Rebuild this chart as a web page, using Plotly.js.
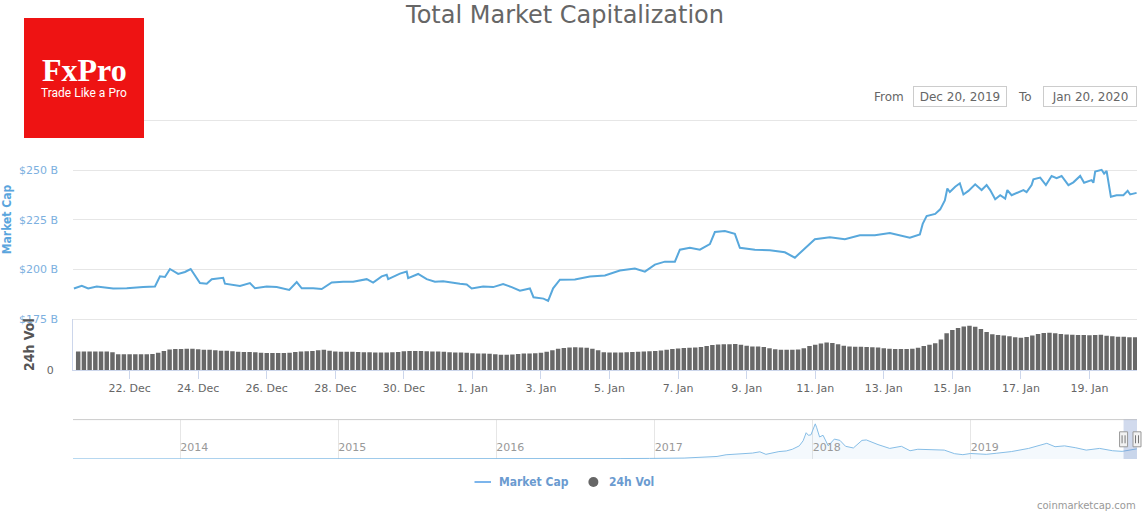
<!DOCTYPE html>
<html>
<head>
<meta charset="utf-8">
<script src="https://cdn.plot.ly/plotly-3.0.1.min.js"></script>
<style>html,body{margin:0;padding:0;background:#fff;}#chart{width:1148px;height:516px;}</style>
</head>
<body>
<div id="chart"></div>
<script>
// ---- Market cap ($B) ----
const capTimes = [
'2019-12-20 09:00','2019-12-20 14:30','2019-12-20 19:00','2019-12-21 01:00','2019-12-21 12:30','2019-12-21 22:00',
'2019-12-22 09:30','2019-12-22 17:45','2019-12-22 21:15','2019-12-23 00:45','2019-12-23 04:15','2019-12-23 10:00',
'2019-12-23 14:45','2019-12-23 18:45','2019-12-24 01:15','2019-12-24 06:00','2019-12-24 09:30','2019-12-24 17:30',
'2019-12-24 18:45','2019-12-25 05:15','2019-12-25 12:15','2019-12-25 15:45','2019-12-26 00:00','2019-12-26 07:00',
'2019-12-26 15:45','2019-12-26 21:00','2019-12-27 00:30','2019-12-27 08:30','2019-12-27 14:30','2019-12-27 18:00',
'2019-12-27 21:30','2019-12-28 05:30','2019-12-28 12:30','2019-12-28 22:00','2019-12-29 02:30','2019-12-29 08:30',
'2019-12-29 12:00','2019-12-29 13:00','2019-12-29 21:15','2019-12-30 02:00','2019-12-30 03:00','2019-12-30 10:00',
'2019-12-30 16:00','2019-12-30 21:45','2019-12-31 03:30','2019-12-31 15:15','2019-12-31 20:00','2019-12-31 23:30',
'2020-01-01 07:30','2020-01-01 14:30','2020-01-01 21:30','2020-01-02 03:30','2020-01-02 09:15','2020-01-02 16:15',
'2020-01-02 18:45','2020-01-03 01:45','2020-01-03 05:00','2020-01-03 08:30','2020-01-03 13:15','2020-01-03 23:45',
'2020-01-04 10:15','2020-01-04 20:45','2020-01-05 07:15','2020-01-05 17:45','2020-01-06 00:45','2020-01-06 07:45',
'2020-01-06 14:45','2020-01-06 21:45','2020-01-07 01:15','2020-01-07 08:15','2020-01-07 15:15','2020-01-07 22:15',
'2020-01-08 01:45','2020-01-08 08:45','2020-01-08 15:45','2020-01-08 19:15','2020-01-09 05:45','2020-01-09 16:15',
'2020-01-10 02:45','2020-01-10 09:45','2020-01-10 16:45','2020-01-10 23:45','2020-01-11 10:15','2020-01-11 20:45',
'2020-01-12 07:15','2020-01-12 17:45','2020-01-13 04:15','2020-01-13 11:15','2020-01-13 18:15','2020-01-14 01:15',
'2020-01-14 03:15','2020-01-14 06:00','2020-01-14 12:00','2020-01-14 15:30','2020-01-14 18:45','2020-01-14 20:30',
'2020-01-14 22:15','2020-01-15 02:00','2020-01-15 05:15','2020-01-15 07:45','2020-01-15 11:15','2020-01-15 16:00',
'2020-01-15 20:30','2020-01-16 00:00','2020-01-16 02:30','2020-01-16 06:00','2020-01-16 09:30','2020-01-16 13:00',
'2020-01-16 14:30','2020-01-16 17:30','2020-01-17 01:45','2020-01-17 04:00','2020-01-17 07:30','2020-01-17 08:45',
'2020-01-17 13:30','2020-01-17 17:30','2020-01-17 21:30','2020-01-18 01:00','2020-01-18 04:30','2020-01-18 09:15',
'2020-01-18 12:45','2020-01-18 17:30','2020-01-18 20:15','2020-01-19 01:30','2020-01-19 02:45','2020-01-19 04:00',
'2020-01-19 08:30','2020-01-19 10:15','2020-01-19 12:00','2020-01-19 15:00','2020-01-19 19:00','2020-01-19 23:45',
'2020-01-20 02:45','2020-01-20 04:30','2020-01-20 09:00'
];
const capValues = [
190.5,191.8,190.5,191.5,190.5,190.6,
191.2,191.5,196.6,196.3,200.3,197.8,
198.8,200.3,193.2,192.9,195.2,195.9,
192.9,191.8,193.2,190.6,191.5,191.2,
189.8,193.7,190.6,190.6,190.2,191.8,
193.5,193.9,193.9,195.2,193.5,196.6,
197.4,195.2,198.0,199.0,195.7,197.8,
195.2,193.9,194.1,192.9,192.5,190.5,
191.5,191.2,192.7,191.2,189.4,190.5,
186.1,185.4,184.3,190.6,194.9,195.0,
196.5,197.0,199.5,200.5,199.0,202.5,
204.0,204.0,210.0,211.0,210.0,212.8,
218.9,219.4,218.0,211.0,210.0,209.7,
208.7,206.0,210.7,215.3,216.3,215.3,
217.3,217.3,218.4,217.3,216.0,217.7,
223.0,226.9,228.0,230.3,234.8,240.8,
239.0,241.7,243.4,237.8,239.6,242.9,
240.0,242.5,240.0,235.4,237.4,235.7,
240.0,237.4,240.0,239.0,242.5,245.4,
246.3,242.5,247.1,246.0,247.1,242.5,
243.9,247.1,243.7,245.0,243.7,249.3,
250.2,248.3,249.6,236.6,237.4,237.4,
239.6,237.8,238.6
];

// ---- 24h volume ($B), one bar every 4 hours from volStart ----
const volStart = '2019-12-20T12:00:00Z';
const volStepHours = 4;
const volValues = [
73,73,73,73,73,73,70,62,62,62,62,62,62,63,68,75,81,83,83,84,
84,82,80,80,78,76,76,74,72,71,71,70,68,67,67,67,67,68,71,73,
74,75,78,80,76,73,72,72,72,71,70,70,69,69,69,70,71,74,75,75,
75,74,73,73,72,70,69,69,68,66,65,65,64,62,60,60,61,63,65,65,
66,68,72,78,84,87,89,90,89,88,84,78,70,69,69,69,70,71,72,73,
74,75,77,80,83,85,87,88,89,91,95,99,101,102,102,103,100,96,93,93,
91,86,82,80,80,80,81,86,95,100,105,108,107,102,96,93,92,92,91,90,
89,86,84,83,83,83,84,88,95,100,106,120,145,158,166,172,175,171,162,150,
141,138,136,133,129,127,130,136,142,146,147,145,142,140,139,138,138,137,138,139,
135,133,131,131,129,129
];

// ---- Navigator: total market cap history ($B) ----
const navTimes = [
'2013-04-28','2013-06-15','2013-09-01','2013-11-15','2013-12-04','2013-12-20','2014-01-10','2014-02-15',
'2014-03-20','2014-05-15','2014-07-01','2014-09-15','2014-11-15','2015-01-15','2015-03-15','2015-06-15',
'2015-09-15','2015-11-05','2016-01-15','2016-03-15','2016-06-17','2016-08-10','2016-10-15','2016-12-20',
'2017-01-05','2017-03-10','2017-05-25','2017-06-15','2017-08-15','2017-09-01','2017-09-15','2017-10-15',
'2017-11-01','2017-11-15','2017-12-01','2017-12-10','2017-12-17','2017-12-22','2017-12-28','2018-01-07',
'2018-01-10','2018-01-17','2018-01-25','2018-02-06','2018-02-20','2018-03-05','2018-03-18','2018-04-05',
'2018-04-25','2018-05-05','2018-06-01','2018-06-28','2018-07-25','2018-08-14','2018-09-01','2018-10-01',
'2018-11-01','2018-11-25','2018-12-14','2019-01-01','2019-02-06','2019-03-01','2019-04-05','2019-05-15',
'2019-06-26','2019-07-15','2019-08-06','2019-09-01','2019-09-25','2019-10-26','2019-11-25','2019-12-17',
'2020-01-20'
];
const navValues = [
1.6,1.3,1.5,5,15,8,10.5,8,
7,6,8,6.5,5.5,4.5,4,3.7,
3.6,5.5,6.5,7,11.5,10,10.5,14,
17.5,22,60,100,140,170,110,175,
190,230,310,430,620,560,570,830,
750,520,560,310,470,440,300,260,
440,450,340,250,300,195,230,220,
210,125,102,130,110,135,175,250,
370,290,310,265,210,250,195,180,
240
];

const yearTicks = ['2014-01-01','2015-01-01','2016-01-01','2017-01-01','2018-01-01','2019-01-01'];
const capTicks = [175, 200, 225, 250, 275];
// the $275 B label sits under the logo in the original, so it is left blank
const capTickText = ['$175 B', '$200 B', '$225 B', '$250 B', ''];

const mainRange = ['2019-12-20 08:22', '2020-01-20 09:17'];
const navRange = ['2013-04-28 00:00', '2020-01-20 09:00'];
const selection = ['2019-12-20 08:22', '2020-01-20 09:00'];

const W = 1148, H = 516;
const px = v => v / W;           // pixel -> paper x
const py = v => 1 - v / H;       // pixel -> paper y
const navDomain = [px(73), px(1137)];

const msOf = s => { const p = s.split(' '); return Date.parse(p[0] + 'T' + (p[1] || '00:00') + ':00Z'); };
// position of a date on the navigator axis, in paper units (linear date scale of xaxis2)
const navPaper = s => navDomain[0] + (msOf(s) - msOf(navRange[0])) / (msOf(navRange[1]) - msOf(navRange[0])) * (navDomain[1] - navDomain[0]);

const t0 = Date.parse(volStart);
const volTimes = volValues.map((_, i) => t0 + i * volStepHours * 3600e3);

const traces = [
  {type:'bar', name:'24h Vol', x:volTimes, y:volValues, xaxis:'x', yaxis:'y2',
   marker:{color:'#686868', line:{width:0}}, hoverinfo:'skip'},
  {type:'scatter', mode:'lines', name:'Market Cap', x:capTimes, y:capValues, xaxis:'x', yaxis:'y',
   line:{color:'#58a8dc', width:2}, hoverinfo:'skip'},
  {type:'scatter', mode:'lines', name:'nav', x:navTimes, y:navValues, xaxis:'x2', yaxis:'y3',
   line:{color:'#86bde6', width:1}, fill:'tozeroy', fillcolor:'rgba(110,175,225,0.08)', hoverinfo:'skip'}
];

const baseFont = 'DejaVu Sans, Verdana, sans-serif';
const condFont = 'DejaVu Sans Condensed, DejaVu Sans, sans-serif';

function handle(s) {
  const c = navPaper(s);
  return [
    {type:'rect', xref:'paper', xsizemode:'pixel', xanchor:c, x0:-4, x1:4,
     yref:'y3 domain', ysizemode:'pixel', yanchor:0.5, y0:-7.5, y1:7.5,
     fillcolor:'#f2f2f2', line:{color:'#999', width:1}, layer:'above'},
    {type:'line', xref:'paper', xsizemode:'pixel', xanchor:c, x0:-1.5, x1:-1.5,
     yref:'y3 domain', ysizemode:'pixel', yanchor:0.5, y0:-4, y1:4, line:{color:'#777', width:1}, layer:'above'},
    {type:'line', xref:'paper', xsizemode:'pixel', xanchor:c, x0:1.5, x1:1.5,
     yref:'y3 domain', ysizemode:'pixel', yanchor:0.5, y0:-4, y1:4, line:{color:'#777', width:1}, layer:'above'}
  ];
}

const layout = {
  width:W, height:H, margin:{l:0, r:0, t:0, b:0},
  paper_bgcolor:'#ffffff', plot_bgcolor:'rgba(0,0,0,0)',
  showlegend:false, bargap:0.22,
  font:{family:baseFont, color:'#666'},
  title:{text:'Total Market Capitalization', font:{family:baseFont, size:24, color:'#666'},
         x:px(565), xref:'paper', xanchor:'center', y:py(15), yref:'container', yanchor:'middle'},
  xaxis:{domain:[px(73), px(1137)], anchor:'y2', type:'date',
         range:mainRange, tick0:'2019-12-22', dtick:2*86400000,
         tickformat:'%-d. %b', ticks:'outside', ticklen:8, tickcolor:'#ccd6eb', tickwidth:1,
         showline:true, linecolor:'#ccd6eb', linewidth:1, showgrid:false, zeroline:false,
         tickfont:{family:baseFont, size:11, color:'#666'}, fixedrange:true},
  yaxis:{domain:[py(320.5), py(118.5)], anchor:'x', range:[174.4,276], tickmode:'array',
         tickvals:capTicks, ticktext:capTickText,
         showgrid:true, gridcolor:'#e6e6e6', gridwidth:1, zeroline:false,
         ticks:'', ticklabelstandoff:14, tickfont:{family:baseFont, size:11, color:'#7cb0e0'},
         title:{text:'Market Cap', standoff:9, font:{family:condFont, size:12, color:'#5aa5dd', weight:'bold'}},
         fixedrange:true},
  yaxis2:{domain:[py(370), py(319.3)], anchor:'x', range:[0,200], tickvals:[0],
          showgrid:false, zeroline:false, showline:true, linecolor:'#ccd6eb', linewidth:1, ticks:'',
          ticklabelstandoff:16, tickfont:{family:baseFont, size:11, color:'#666'},
          title:{text:'24h Vol', standoff:8, font:{family:condFont, size:14, color:'#555', weight:'bold'}},
          fixedrange:true},
  xaxis2:{domain:navDomain, anchor:'y3', type:'date',
          range:navRange, tickvals:yearTicks, tickformat:'%Y',
          ticklabelposition:'inside right', ticks:'', showgrid:true, gridcolor:'#e6e6e6', zeroline:false,
          showline:false, tickfont:{family:baseFont, size:11, color:'#999'}, fixedrange:true},
  yaxis3:{domain:[py(459), py(419.6)], anchor:'x2', range:[0,930], showticklabels:false,
          showgrid:false, zeroline:false, fixedrange:true},
  shapes:[
    // navigator top outline
    {type:'line', xref:'x2 domain', x0:0, x1:1, yref:'y3 domain', y0:1, y1:1, line:{color:'#cccccc', width:1}},
    // navigator selected window
    {type:'rect', xref:'x2', x0:selection[0], x1:selection[1], yref:'y3 domain', y0:0, y1:1,
     fillcolor:'rgba(102,133,194,0.3)', line:{width:0}, layer:'above'},
    ...handle(selection[0]),
    ...handle(selection[1]),
    // FxPro logo block
    {type:'rect', xref:'paper', yref:'paper', x0:px(24), x1:px(144), y0:py(138), y1:py(18),
     fillcolor:'#ee1313', line:{width:0}, layer:'above'},
    // legend symbols
    {type:'line', xref:'paper', yref:'paper', x0:px(474.5), x1:px(491), y0:py(482), y1:py(482),
     line:{color:'#7cb5ec', width:2}},
    {type:'circle', xref:'paper', yref:'paper', x0:px(588.4), x1:px(598.4), y0:py(487), y1:py(477),
     fillcolor:'#666', line:{width:0}}
  ],
  annotations:[
    {text:'FxPro', xref:'paper', yref:'paper', x:px(84.5), y:py(70), xanchor:'center', yanchor:'middle',
     showarrow:false, font:{family:'Liberation Serif, serif', size:32, color:'#fff', weight:'bold'}},
    {text:'Trade Like a Pro', xref:'paper', yref:'paper', x:px(84), y:py(93), xanchor:'center', yanchor:'middle',
     showarrow:false, font:{family:'Roboto, sans-serif', size:12, color:'#fff'}},
    {text:'From', xref:'paper', yref:'paper', x:px(906), y:py(96.5), xanchor:'right', yanchor:'middle',
     showarrow:false, font:{family:baseFont, size:12, color:'#666'}},
    {text:'Dec 20, 2019', xref:'paper', yref:'paper', x:px(960), y:py(96.7), xanchor:'center', yanchor:'middle',
     showarrow:false, width:92, height:19, borderpad:0, bordercolor:'#cccccc', borderwidth:1,
     font:{family:baseFont, size:12, color:'#666'}},
    {text:'To', xref:'paper', yref:'paper', x:px(1034), y:py(96.5), xanchor:'right', yanchor:'middle',
     showarrow:false, font:{family:baseFont, size:12, color:'#666'}},
    {text:'Jan 20, 2020', xref:'paper', yref:'paper', x:px(1090.3), y:py(96.7), xanchor:'center', yanchor:'middle',
     showarrow:false, width:92, height:19, borderpad:0, bordercolor:'#cccccc', borderwidth:1,
     font:{family:baseFont, size:12, color:'#666'}},
    {text:'Market Cap', xref:'paper', yref:'paper', x:px(497), y:py(482), xanchor:'left', yanchor:'middle',
     showarrow:false, font:{family:condFont, size:12, color:'#6b9bd0', weight:'bold'}},
    {text:'24h Vol', xref:'paper', yref:'paper', x:px(607), y:py(482), xanchor:'left', yanchor:'middle',
     showarrow:false, font:{family:condFont, size:12, color:'#6b9bd0', weight:'bold'}},
    {text:'coinmarketcap.com', xref:'paper', yref:'paper', x:px(1138), y:py(505), xanchor:'right', yanchor:'middle',
     showarrow:false, font:{family:baseFont, size:10, color:'#999'}}
  ]
};

Plotly.newPlot('chart', traces, layout, {displayModeBar:false, staticPlot:true});
</script>
</body>
</html>
